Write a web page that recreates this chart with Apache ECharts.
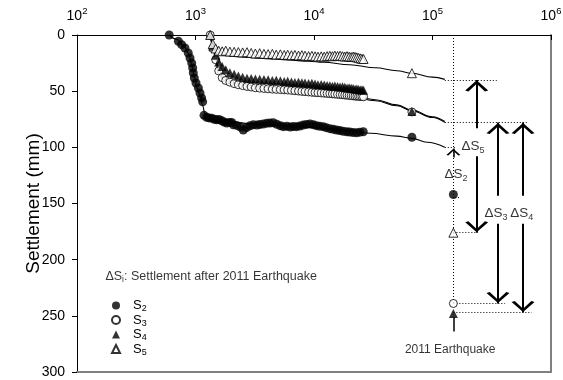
<!DOCTYPE html>
<html><head><meta charset="utf-8">
<script src="https://cdn.jsdelivr.net/npm/echarts@6/dist/echarts.min.js"></script>
<style>html,body{margin:0;padding:0;background:#fff}#c{width:563px;height:380px}</style>
</head><body><div id="c"></div>
<script>
// ---------- measured data (time, settlement mm) ----------
const tS2 = [600,717,764,815,869,899,929,947,958,977,1010,1057,1092,1127,1150,1180,1242,1300,1370,1440,1510,1580,1665,1750,1835,1930,2020,2085,2228,2400,2530,2700,2880,3073,3300,3500,3733,4000,4250,4535,4850,5200,5510,5900,6300,6700,7140,7600,8100,8650,9250,9900,10500,11200,11980,12700,13600,14550,15500,16500,17600,18870,20000,21400,22900,24400,26060];
const vS2 = [0,5.6,8.6,11.6,16,20.5,25,29.4,33.8,38.3,42.7,47.2,51.6,56,59.5,71.5,73.3,73.8,74,75,75.5,75.2,76.4,77.5,78.3,77.8,77.8,80,80.5,82,84.6,82.5,80.8,80,80.2,79.6,79.2,78.5,78.4,78.1,79.5,80.8,81.6,81.2,82,81.5,81.6,81,80.2,79.6,79.2,80,80.7,81.3,81.6,82.5,83.4,84,84.6,85,85.7,86.1,86.3,86.8,87,86.5,86.1];

const tS345 = [1330,1400,1480,1570,1680,1800,1950,2120,2300,2500,2720,2950,3200,3480,3780,4100,4450,4800,5200,5600,6000,6450,6900,7400,7900,8400,9000,9600,10200,10800,11500,12200,12900,13600,14300,15000,15800,16600,17400,18200,19000,19800,20600,21400,22200,23000,23800,24600,25400,26200];
const vS3 = [0,12,22,32,38,40.5,42,43.3,44.3,45,45.8,46.3,47,47.3,47.6,47.9,48.2,48.4,48.6,48.8,49,49.3,49.6,49.9,50.2,50.4,50.7,51,51.2,51.4,51.6,51.8,52,52.2,52.4,52.6,52.8,53,53.2,53.4,53.6,53.8,54,54.2,54.4,54.5,54.6,54.7,54.8,55];
const vS4 = [0,10,18,24,28,31,33.5,35,36.5,37.5,38.5,38.8,39.2,39.5,39.6,39.8,40.4,40.2,40.8,41.5,41.2,41.8,42.3,42,42.6,42.7,43.2,43,43.6,44.2,44,44.6,45,45.2,45.6,45.3,45.8,46.3,46,46.6,47.1,46.9,47.5,47.7,48.2,48,48.5,48.9,48.7,49.2];
const vS5 = [0,8,12,14,14.5,14,14.8,15,15.2,15.5,15.3,16,16.5,16.2,16.8,17,16.8,17.5,17.2,17.8,17.6,18,17.8,18.3,18,18.4,18.8,18.5,19,19.3,19,19.3,18.8,18.5,18.9,18.4,18.7,18.4,18.9,19.2,18.8,19.3,19.6,19.2,19.5,19.9,20.4,20.8,21.2,21.4];

// later readings (incl. after 2011 earthquake)
const tLate = [67000, 150000];
const vS2Late = [91, 142];
const vS3Late = [68.5, 239];
const vS4Late = [68, 248];
const vS5Late = [34, 176];

// fitted curves
const cS2t = [600,700,800,870,930,980,1040,1100,1150,1200,1300,1500,2000,3000,5000,8000,12000,20000,30000,50000,67000,90000,127000];
const cS2v = [0,4,10,16,26,38,48,55,63,70,73.5,75.5,77.5,79,80.5,81.8,83,85.5,87.5,90,92,95.5,100];
const cS345t = [1325,1400,1480,1556,1700,2000,2300,3000,4000,6000,9000,12000,20000,33000,50000,67000,100000,127000];
const cS3v = [0,10,22,34,39,42.5,44.3,45.8,46.7,47.8,49.3,50.5,54.5,58.5,63,67.5,73.5,77.8];
const cS4v = [0,8,18,30,37,41.5,43.5,45.2,46.2,47.3,48.7,50,53.8,57.6,62.2,66.8,72.8,77];
const cS5v = [0,7,12.5,15.5,17.5,18.8,19.4,20.2,21,22.2,23.4,24.3,26.5,29.2,31.8,34,37.5,39.5];

// annotation geometry (data units)
const dottedSegs = [
  [[150000,0],[150000,239]],
  [[127000,40],[348000,40]],
  [[127000,78],[624000,78]],
  [[127000,100],[155000,100]],
  [[150000,176],[236000,176]],
  [[150000,239],[409000,239]],
  [[150000,247],[687000,247]],
  [[155000,144],[168000,144]]
];
const arrowSegs = [
  [[236000,83],[236000,40]],
  [[236000,108],[236000,176]],
  [[357000,143],[357000,78]],
  [[357000,168],[357000,239]],
  [[581000,143],[581000,78]],
  [[581000,168],[581000,247]]
];
const smallArrowSegs = [[[150000,109],[150000,101]]];
const quakeSegs = [[[150000,264],[150000,251]]];

const annoX = [220000,158000,344000,566000,141000];
const annoY = [99,124,159,159,280];
const annoText = ['{d|ΔS}{sub|5}','{d|ΔS}{sub|2}','{d|ΔS}{sub|3}','{d|ΔS}{sub|4}','{e|2011 Earthquake}'];
const noteX = 172, noteY = 215;
const noteText = '{t|ΔS}{sub|i}{t|: Settlement after 2011 Earthquake}';

// ---------- helpers ----------
const FONT = "'Liberation Sans', Arial, Helvetica, sans-serif";
const zip = (a,b) => a.map((v,i)=>[v,b[i]]);
const chevron = 'path://M0,0 L0.01,0 L0,0.01 Z M5,10 L10,18.6 L8.6,19.4 L5,12.9 L1.4,19.4 L0,18.6 Z';
const subRich = {fontSize: 9, fontFamily: FONT, color:'#000', padding:[8,0,0,0]};

const chart = echarts.init(document.getElementById('c'), null, {renderer:'canvas'});

const scatterBase = {type:'scatter', z:3};
const option = {
  animation:false,
  backgroundColor:'#fff',
  textStyle:{fontFamily:FONT},
  grid:{left:77, right:12, top:35, bottom:8, containLabel:false, outerBoundsMode:'none'},
  legend:{
    data:['S2','S3','S4','S5'],
    orient:'vertical', left:106, top:294,
    itemWidth:8, itemHeight:8, itemGap:0,
    formatter: n => '{s|S}{sub|' + n.substring(1) + '}',
    textStyle:{color:'#000', fontFamily:FONT,
      rich:{s:{fontSize:13, fontFamily:FONT, color:'#000', padding:[0,0,0,8]},
            sub:{fontSize:9, fontFamily:FONT, color:'#000', padding:[7,0,0,0]}}}
  },
  xAxis:[{
    type:'log', logBase:10, min:100, max:1000000, position:'top',
    axisLine:{show:true, lineStyle:{color:'#000', width:1}},
    axisTick:{show:true, inside:true, length:5, lineStyle:{color:'#000'}},
    minorTick:{show:false}, splitLine:{show:false},
    axisLabel:{show:true, margin:9, color:'#000',
      formatter: v => '{b|10}{sup|' + Math.round(Math.log10(v)) + '}',
      rich:{b:{fontSize:14, fontFamily:FONT, color:'#000'},
            sup:{fontSize:9.5, fontFamily:FONT, color:'#000', padding:[0,0,10,0]}}}
  },{
    type:'value', position:'bottom', min:0, max:1, show:true,
    axisLine:{show:true, onZero:false, lineStyle:{color:'#808080', width:2}},
    axisTick:{show:false}, axisLabel:{show:false}, splitLine:{show:false}
  }],
  yAxis:[{
    type:'value', min:0, max:300, interval:50, inverse:true,
    name:'Settlement (mm)', nameLocation:'middle', nameGap:34, nameRotate:90,
    nameMoveOverlap:false,
    nameTextStyle:{fontSize:19, color:'#000', fontFamily:FONT},
    axisLine:{show:true, onZero:false, lineStyle:{color:'#000', width:1}},
    axisTick:{show:true, inside:false, length:5, lineStyle:{color:'#000'}},
    splitLine:{show:false},
    axisLabel:{fontSize:14, color:'#000', margin:12, fontFamily:FONT}
  },{
    type:'value', position:'right', min:0, max:1, show:true,
    axisLine:{show:true, onZero:false, lineStyle:{color:'#808080', width:2}},
    axisTick:{show:false}, axisLabel:{show:false}, splitLine:{show:false}
  }],
  series:[
    {type:'line', name:'fitS2', data:zip(cS2t,cS2v), showSymbol:false, symbol:'none', smooth:0.4, smoothMonotone:'x', lineStyle:{color:'#000', width:1.1}, z:2, silent:true},
    {type:'line', name:'fitS3', data:zip(cS345t,cS3v), showSymbol:false, symbol:'none', smooth:0.4, smoothMonotone:'x', lineStyle:{color:'#000', width:1.1}, z:2, silent:true},
    {type:'line', name:'fitS4', data:zip(cS345t,cS4v), showSymbol:false, symbol:'none', smooth:0.4, smoothMonotone:'x', lineStyle:{color:'#000', width:1.1}, z:2, silent:true},
    {type:'line', name:'fitS5', data:zip(cS345t,cS5v), showSymbol:false, symbol:'none', smooth:0.4, smoothMonotone:'x', lineStyle:{color:'#000', width:1.1}, z:2, silent:true},
    Object.assign({}, scatterBase, {name:'S2', symbol:'circle', symbolSize:9,
      itemStyle:{color:'#000', borderColor:'#000', borderWidth:0},
      data: zip(tS2,vS2).concat(zip(tLate,vS2Late))}),
    Object.assign({}, scatterBase, {name:'S3', symbol:'circle', symbolSize:8,
      itemStyle:{color:'#fff', borderColor:'#000', borderWidth:1},
      data: zip(tS345,vS3).concat(zip(tLate,vS3Late))}),
    Object.assign({}, scatterBase, {name:'S4', symbol:'triangle', symbolSize:9,
      itemStyle:{color:'#000', borderColor:'#000', borderWidth:0},
      data: zip(tS345,vS4).concat(zip(tLate,vS4Late))}),
    Object.assign({}, scatterBase, {name:'S5', symbol:'triangle', symbolSize:9,
      itemStyle:{color:'#fff', borderColor:'#000', borderWidth:1},
      data: zip(tS345,vS5).concat(zip(tLate,vS5Late))}),
    {type:'lines', coordinateSystem:'cartesian2d', name:'dotted', silent:true, z:1,
      symbol:['none','none'],
      lineStyle:{color:'#000', width:1, type:[1,2], opacity:1},
      data: dottedSegs.map(c=>({coords:c}))},
    {type:'lines', coordinateSystem:'cartesian2d', name:'arrows', silent:true, z:4,
      symbol:['none', chevron], symbolSize:23,
      lineStyle:{color:'#000', width:2, opacity:1}, itemStyle:{color:'#000'},
      data: arrowSegs.map(c=>({coords:c}))},
    {type:'lines', coordinateSystem:'cartesian2d', name:'smallArrow', silent:true, z:4,
      symbol:['none', chevron], symbolSize:14,
      lineStyle:{color:'#000', width:1.5, opacity:1}, itemStyle:{color:'#000'},
      data: smallArrowSegs.map(c=>({coords:c}))},
    {type:'lines', coordinateSystem:'cartesian2d', name:'quake', silent:true, z:4,
      symbol:['none','none'],
      lineStyle:{color:'#000', width:1.5, opacity:1},
      data: quakeSegs.map(c=>({coords:c}))},
    {type:'scatter', name:'anno', symbolSize:1, silent:true, z:5,
      itemStyle:{color:'rgba(0,0,0,0)'},
      label:{show:true, position:'inside', color:'#000',
        formatter: p => p.data.text,
        rich:{d:{fontSize:13.5, fontFamily:FONT, color:'#000'},
              e:{fontSize:12, fontFamily:FONT, color:'#000'},
              sub:subRich}},
      data: annoX.map((x,i)=>({value:[x,annoY[i]], text:annoText[i]}))},
    {type:'scatter', name:'note', symbolSize:1, silent:true, z:5,
      itemStyle:{color:'rgba(0,0,0,0)'},
      label:{show:true, position:'right', distance:0, color:'#000',
        formatter: p => p.data.text,
        rich:{t:{fontSize:12.5, fontFamily:FONT, color:'#000'},
              sub:{fontSize:8.5, fontFamily:FONT, color:'#000', padding:[7,0,0,0]}}},
      data:[{value:[noteX,noteY], text:noteText}]}
  ]
};
chart.setOption(option);
</script></body></html>
